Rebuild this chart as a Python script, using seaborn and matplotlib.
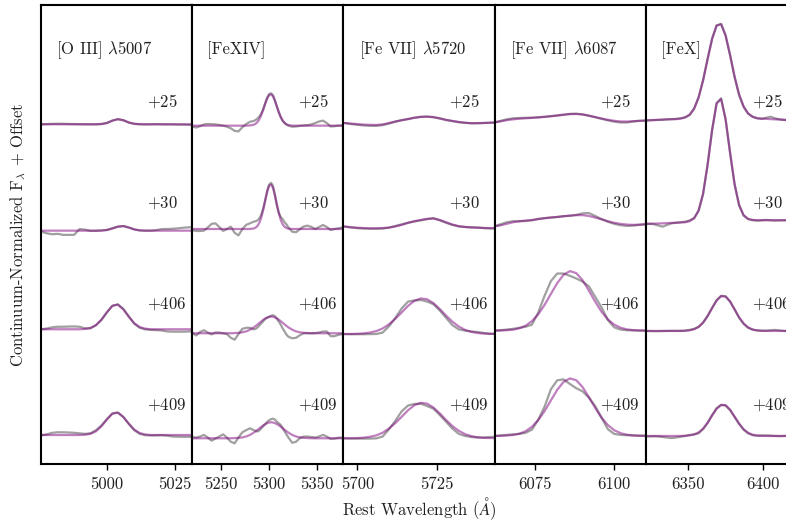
import numpy as np
import matplotlib
matplotlib.use("Agg")
import matplotlib.pyplot as plt
import seaborn as sns

sns.set_theme(style="white")
plt.rcParams.update({
    "font.family": "serif",
    "font.serif": ["cmr10", "DejaVu Serif"],
    "mathtext.fontset": "cm",
    "axes.formatter.use_mathtext": True,
    "axes.unicode_minus": False,
})

# ---------------- data ----------------
epochs = ["+25", "+30", "+406", "+409"]
offsets = [3, 2, 1, 0]
titles = [r"[O III] $\lambda$5007", "[FeXIV]", r"[Fe VII] $\lambda$5720",
          r"[Fe VII] $\lambda$6087", "[FeX]"]
xlims = [(4975.9, 5031.2), (5219.8, 5377.3), (5695.6, 5743.3),
         (6062.2, 6110.0), (6321.8, 6422.6)]
xticks = [[5000, 5025], [5250, 5300, 5350], [5700, 5725], [6075, 6100], [6350, 6400]]

# panel 1 : [O III] 5007
wl_oiii = [4974, 4976, 4978, 4980, 4982, 4984, 4986, 4988, 4990, 4992, 4994, 4996,
           4998, 5000, 5002, 5004, 5006, 5008, 5010, 5012, 5014, 5016, 5018, 5020,
           5022, 5024, 5026, 5028, 5030, 5032, 5034]
oiii_data_25 = [0.972, 0.973, 0.975, 0.977, 0.978, 0.978, 0.976, 0.975, 0.974, 0.973, 0.973, 0.973,
                0.976, 0.986, 1.008, 1.022, 1.012, 0.99, 0.977, 0.973, 0.972, 0.973, 0.974, 0.973,
                0.972, 0.972, 0.971, 0.971, 0.970, 0.968, 0.968]
oiii_fit_25 = [0.973, 0.973, 0.973, 0.973, 0.973, 0.973, 0.973, 0.973, 0.973, 0.973, 0.973, 0.973,
               0.975, 0.985, 1.008, 1.021, 1.012, 0.990, 0.978, 0.974, 0.973, 0.973, 0.973, 0.973,
               0.973, 0.973, 0.972, 0.972, 0.971, 0.970, 0.970]
oiii_data_30 = [0.955, 0.95, 0.935, 0.926, 0.93, 0.92, 0.92, 0.92, 0.975, 0.97, 0.958, 0.958,
                0.962, 0.967, 0.982, 0.998, 1.004, 0.99, 0.972, 0.962, 0.96, 0.96, 0.965, 0.975,
                0.976, 0.978, 0.982, 0.988, 0.992, 0.995, 0.995]
oiii_fit_30 = [0.96, 0.96, 0.96, 0.96, 0.96, 0.96, 0.96, 0.96, 0.96, 0.96, 0.96, 0.96,
               0.961, 0.966, 0.981, 0.998, 1.004, 0.99, 0.972, 0.963, 0.96, 0.96, 0.96, 0.96,
               0.96, 0.96, 0.96, 0.96, 0.96, 0.96, 0.96]
oiii_data_406 = [1.021, 1.021, 1.028, 1.04, 1.045, 1.045, 1.047, 1.048, 1.045, 1.03, 1.03, 1.06,
                 1.11, 1.18, 1.245, 1.258, 1.215, 1.145, 1.075, 1.035, 1.02, 1.015, 1.013, 1.01,
                 1.0, 0.998, 0.998, 0.998, 1.0, 1.0, 1.0]
oiii_fit_406 = [1.021, 1.021, 1.021, 1.021, 1.021, 1.021, 1.021, 1.021, 1.021, 1.024, 1.034, 1.06,
                1.112, 1.184, 1.244, 1.256, 1.211, 1.14, 1.078, 1.042, 1.027, 1.021, 1.021, 1.021,
                1.021, 1.021, 1.021, 1.021, 1.021, 1.021, 1.021]
oiii_data_409 = [1.012, 1.012, 1.02, 1.035, 1.04, 1.04, 1.038, 1.035, 1.03, 1.025, 1.03, 1.06,
                 1.105, 1.165, 1.22, 1.228, 1.185, 1.12, 1.06, 1.025, 1.012, 1.01, 1.01, 1.012,
                 1.008, 1.0, 0.998, 0.997, 0.997, 0.997, 0.997]
oiii_fit_409 = [1.014, 1.014, 1.014, 1.014, 1.014, 1.014, 1.014, 1.014, 1.014, 1.017, 1.026, 1.049,
                1.097, 1.162, 1.217, 1.227, 1.187, 1.122, 1.066, 1.033, 1.019, 1.014, 1.014, 1.014,
                1.014, 1.014, 1.014, 1.014, 1.014, 1.014, 1.014]

# panel 2 : [FeXIV]
wl_fexiv = [5216, 5220, 5224, 5228, 5232, 5236, 5240, 5244, 5248, 5252, 5256, 5260, 5264, 5268,
            5272, 5276, 5280, 5284,
            5286, 5288, 5290, 5292, 5294, 5296, 5298, 5300, 5302, 5304, 5306, 5308, 5310, 5312,
            5314, 5316, 5318,
            5320, 5324, 5328, 5332, 5336, 5340, 5344, 5348, 5352, 5356, 5360, 5364, 5368, 5372,
            5376, 5380]
fexiv_data_25 = [0.958, 0.952, 0.942, 0.955, 0.972, 0.976, 0.974, 0.972, 0.967, 0.96, 0.95, 0.935,
                 0.91, 0.905, 0.945, 0.975, 0.997, 1.005,
                 1.015, 1.03, 1.05, 1.08, 1.125, 1.18, 1.23, 1.262, 1.268, 1.25, 1.2, 1.14, 1.085,
                 1.04, 1.005, 0.985, 0.97,
                 0.96, 0.95, 0.952, 0.958, 0.962, 0.965, 0.972, 0.985, 1.0, 1.008, 0.985, 0.952,
                 0.955, 0.96, 0.962, 0.962]
fexiv_fit_25 = [0.96] * 16 + [0.962, 0.969,
                0.979, 0.997, 1.025, 1.066, 1.117, 1.171, 1.22, 1.251, 1.258, 1.238, 1.197, 1.144,
                1.09, 1.044, 1.01, 0.987, 0.973,
                0.966] + [0.96] * 15
fexiv_data_30 = [0.976, 0.965, 0.957, 0.957, 0.96, 0.99, 1.025, 1.03, 0.995, 0.958, 0.975, 0.998,
                 0.94, 0.915, 0.975, 1.015, 1.03, 1.046,
                 1.05, 1.06, 1.08, 1.12, 1.18, 1.26, 1.345, 1.40, 1.415, 1.385, 1.3, 1.2, 1.13,
                 1.09, 1.07, 1.04, 1.02,
                 0.99, 0.95, 0.945, 0.975, 1.0, 1.008, 0.995, 0.976, 0.995, 1.014, 0.995, 0.966,
                 0.975, 0.982, 0.99, 0.99]
fexiv_fit_30 = [0.976] * 17 + [0.981,
                0.99, 1.007, 1.04, 1.093, 1.166, 1.252, 1.333, 1.388, 1.40, 1.365, 1.295, 1.208,
                1.127, 1.063, 1.021, 0.997, 0.985,
                0.979] + [0.976] * 15
fexiv_data_406 = [0.995, 0.985, 0.962, 0.995, 1.012, 0.99, 0.972, 0.99, 0.99, 0.983, 0.975, 0.94,
                  0.922, 0.975, 1.025, 1.035, 1.035, 1.02,
                  1.025, 1.04, 1.06, 1.08, 1.1, 1.12, 1.13, 1.14, 1.15, 1.155, 1.145, 1.12, 1.095,
                  1.065, 1.03, 1.0, 0.97,
                  0.95, 0.935, 0.94, 0.965, 0.983, 0.983, 0.983, 0.985, 0.99, 1.0, 1.0, 0.955,
                  0.955, 0.968, 0.975, 0.975]
fexiv_fit_406 = [0.983] * 12 + [0.985, 0.987, 0.992, 1.001, 1.017, 1.039,
                 1.053, 1.068, 1.083, 1.098, 1.113, 1.125, 1.134, 1.14, 1.142, 1.14, 1.134, 1.125,
                 1.113, 1.098, 1.083, 1.068, 1.053,
                 1.039, 1.017, 1.001, 0.992, 0.987, 0.985] + [0.983] * 10
fexiv_data_409 = [0.998, 0.995, 0.99, 1.0, 1.015, 0.99, 0.96, 0.98, 1.0, 1.02, 0.99, 0.95,
                  0.935, 0.99, 1.04, 1.06, 1.078, 1.06,
                  1.052, 1.048, 1.06, 1.08, 1.1, 1.12, 1.14, 1.155, 1.165, 1.17, 1.16, 1.14, 1.125,
                  1.11, 1.08, 1.05, 1.02,
                  0.99, 0.94, 0.95, 0.985, 0.999, 1.0, 0.995, 0.99, 1.0, 1.015, 1.0, 0.977,
                  0.98, 0.988, 0.99, 0.99]
fexiv_fit_409 = [0.983] * 12 + [0.985, 0.987, 0.991, 1.0, 1.015, 1.037,
                 1.05, 1.064, 1.079, 1.093, 1.107, 1.118, 1.127, 1.133, 1.135, 1.133, 1.127, 1.118,
                 1.107, 1.093, 1.079, 1.064, 1.05,
                 1.037, 1.015, 1.0, 0.991, 0.987, 0.985] + [0.983] * 10

# panel 3 : [Fe VII] 5720
wl_fevii_a = [5692, 5694, 5696, 5698, 5700, 5702, 5704, 5706, 5708, 5710, 5712, 5714, 5716, 5718,
              5720, 5722, 5724, 5726, 5728, 5730, 5732, 5734, 5736, 5738, 5740, 5742, 5744, 5746]
feviia_data_25 = [0.99, 0.99, 0.985, 0.975, 0.968, 0.962, 0.958, 0.958, 0.965, 0.98, 0.998, 1.012,
                  1.024, 1.036, 1.044, 1.046, 1.04, 1.028, 1.014, 1.003, 0.993, 0.986, 0.983, 0.984,
                  0.986, 0.988, 0.99, 0.99]
feviia_fit_25 = [0.99, 0.989, 0.985, 0.98, 0.975, 0.97, 0.968, 0.967, 0.972, 0.985, 1.0, 1.012,
                 1.022, 1.035, 1.043, 1.046, 1.042, 1.03, 1.015, 1.005, 0.995, 0.988, 0.983, 0.983,
                 0.985, 0.988, 0.989, 0.99]
feviia_data_30 = [1.01, 1.008, 0.998, 0.99, 0.984, 0.98, 0.978, 0.978, 0.98, 0.988, 1.005, 1.02,
                  1.035, 1.048, 1.058, 1.07, 1.08, 1.058, 1.035, 1.015, 1.0, 0.995, 0.992, 0.99,
                  0.984, 0.98, 0.982, 0.984]
feviia_fit_30 = [1.01, 1.008, 1.0, 0.993, 0.988, 0.985, 0.983, 0.983, 0.985, 0.99, 1.0, 1.015,
                 1.035, 1.05, 1.062, 1.072, 1.075, 1.062, 1.04, 1.018, 1.003, 0.995, 0.99, 0.988,
                 0.986, 0.985, 0.984, 0.984]
feviia_data_406 = [0.976, 0.976, 0.975, 0.974, 0.974, 0.974, 0.975, 0.976, 0.99, 1.05, 1.13, 1.22,
                   1.285, 1.295, 1.3, 1.285, 1.26, 1.2, 1.13, 1.06, 1.02, 1.008, 1.0, 0.995,
                   0.985, 0.978, 0.976, 0.976]
feviia_fit_406 = [0.976, 0.976, 0.976, 0.976, 0.978, 0.982, 0.99, 1.004, 1.029, 1.069, 1.121, 1.182,
                  1.244, 1.292, 1.315, 1.307, 1.27, 1.214, 1.151, 1.093, 1.047, 1.015, 0.996, 0.985,
                  0.98, 0.978, 0.976, 0.976]
feviia_data_409 = [0.983, 0.983, 0.982, 0.981, 0.98, 0.98, 0.98, 0.982, 1.0, 1.07, 1.15, 1.24,
                   1.295, 1.31, 1.312, 1.29, 1.265, 1.205, 1.14, 1.075, 1.025, 1.005, 0.995, 0.99,
                   0.99, 0.995, 0.998, 0.998]
feviia_fit_409 = [0.983, 0.983, 0.983, 0.983, 0.985, 0.989, 0.997, 1.011, 1.036, 1.076, 1.128, 1.188,
                  1.25, 1.298, 1.321, 1.313, 1.276, 1.22, 1.157, 1.099, 1.054, 1.022, 1.003, 0.992,
                  0.987, 0.985, 0.983, 0.983]

# panel 4 : [Fe VII] 6087
wl_fevii_b = [6060, 6062, 6064, 6066, 6068, 6070, 6072, 6074, 6076, 6078, 6080, 6082, 6084, 6086,
              6088, 6090, 6092, 6094, 6096, 6098, 6100, 6102, 6104, 6106, 6108, 6110, 6112]
feviib_data_25 = [0.982, 0.99, 1.005, 1.02, 1.03, 1.033, 1.035, 1.036, 1.04, 1.045, 1.05, 1.055,
                  1.063, 1.072, 1.074, 1.068, 1.055, 1.04, 1.025, 1.01, 0.998, 0.99, 0.99, 1.0,
                  1.006, 1.008, 1.008]
feviib_fit_25 = [0.982, 0.99, 1.0, 1.012, 1.02, 1.026, 1.03, 1.034, 1.038, 1.043, 1.05, 1.058,
                 1.065, 1.07, 1.071, 1.066, 1.055, 1.042, 1.028, 1.016, 1.006, 1.0, 0.999, 1.002,
                 1.006, 1.008, 1.008]
feviib_data_30 = [0.995, 1.0, 1.02, 1.04, 1.05, 1.05, 1.052, 1.058, 1.072, 1.08, 1.085, 1.09,
                  1.098, 1.102, 1.11, 1.125, 1.128, 1.1, 1.07, 1.045, 1.025, 1.012, 1.005, 1.008,
                  1.015, 1.02, 1.024]
feviib_fit_30 = [0.995, 1.0, 1.01, 1.025, 1.04, 1.05, 1.056, 1.062, 1.07, 1.078, 1.085, 1.091,
                 1.097, 1.103, 1.108, 1.108, 1.1, 1.085, 1.068, 1.05, 1.035, 1.025, 1.018, 1.015,
                 1.018, 1.022, 1.024]
feviib_data_406 = [1.005, 1.008, 1.012, 1.018, 1.025, 1.035, 1.045, 1.065, 1.18, 1.34, 1.48, 1.552,
                   1.552, 1.53, 1.505, 1.475, 1.43, 1.33, 1.23, 1.11, 1.04, 1.018, 1.012, 1.01,
                   1.008, 1.008, 1.008]
feviib_fit_406 = [1.008, 1.008, 1.009, 1.012, 1.017, 1.03, 1.055, 1.098, 1.164, 1.253, 1.358, 1.461,
                  1.54, 1.575, 1.556, 1.489, 1.39, 1.284, 1.188, 1.115, 1.065, 1.036, 1.02, 1.013,
                  1.01, 1.009, 1.008]
feviib_data_409 = [1.003, 1.005, 1.01, 1.015, 1.02, 1.025, 1.035, 1.065, 1.16, 1.284, 1.45, 1.535,
                   1.544, 1.5, 1.46, 1.43, 1.37, 1.29, 1.18, 1.07, 1.025, 1.015, 1.012, 1.01,
                   1.008, 1.007, 1.006]
feviib_fit_409 = [1.005, 1.005, 1.006, 1.009, 1.014, 1.026, 1.05, 1.092, 1.156, 1.242, 1.344, 1.444,
                  1.52, 1.553, 1.536, 1.471, 1.375, 1.272, 1.179, 1.109, 1.06, 1.032, 1.017, 1.01,
                  1.007, 1.006, 1.005]

# panel 5 : [FeX]
wl_fex = [6318, 6321, 6324, 6327, 6330, 6333, 6336, 6339, 6342, 6345, 6348, 6351, 6354, 6357,
          6360, 6363, 6366, 6369, 6372, 6375, 6378, 6381, 6384, 6387, 6390, 6393, 6396, 6399,
          6402, 6405, 6408, 6411, 6414, 6417, 6420, 6423, 6426]
fex_data_25 = [1.005, 1.006, 1.01, 1.012, 1.014, 1.016, 1.02, 1.022, 1.025, 1.03, 1.04, 1.06,
               1.12, 1.23, 1.395, 1.6, 1.79, 1.915, 1.93, 1.82, 1.63, 1.42, 1.25, 1.14,
               1.075, 1.045, 1.03, 1.025, 1.035, 1.045, 1.03, 1.02, 1.015, 1.01, 1.01, 1.008, 1.008]
fex_fit_25 = [1.008, 1.01, 1.012, 1.014, 1.016, 1.018, 1.02, 1.021, 1.022, 1.027, 1.038, 1.065,
              1.123, 1.228, 1.39, 1.59, 1.785, 1.912, 1.925, 1.818, 1.632, 1.428, 1.258, 1.142,
              1.076, 1.044, 1.031, 1.027, 1.025, 1.022, 1.02, 1.018, 1.015, 1.012, 1.01, 1.008, 1.008]
fex_data_30 = [1.022, 1.024, 1.025, 1.022, 1.01, 0.998, 1.015, 1.03, 1.035, 1.04, 1.045, 1.058,
               1.08, 1.15, 1.31, 1.59, 1.92, 2.175, 2.22, 2.02, 1.7, 1.4, 1.2, 1.105,
               1.07, 1.06, 1.055, 1.058, 1.062, 1.058, 1.056, 1.058, 1.06, 1.058, 1.056, 1.056, 1.056]
fex_fit_30 = [1.024, 1.025, 1.026, 1.027, 1.028, 1.03, 1.032, 1.034, 1.036, 1.038, 1.04, 1.05,
              1.077, 1.151, 1.313, 1.586, 1.916, 2.171, 2.214, 2.02, 1.701, 1.403, 1.205, 1.107,
              1.072, 1.062, 1.06, 1.06, 1.06, 1.06, 1.06, 1.06, 1.058, 1.058, 1.057, 1.057, 1.057]
fex_data_406 = [1.005, 1.005, 1.004, 1.003, 1.003, 1.004, 1.005, 1.006, 1.006, 1.006, 1.008, 1.015,
                1.025, 1.045, 1.085, 1.15, 1.225, 1.298, 1.34, 1.335, 1.285, 1.21, 1.13, 1.072,
                1.035, 1.017, 1.01, 1.008, 1.008, 1.012, 1.015, 1.01, 1.005, 1.005, 1.005, 1.005, 1.005]
fex_fit_406 = [1.005, 1.005, 1.005, 1.005, 1.005, 1.005, 1.005, 1.005, 1.005, 1.005, 1.007, 1.011,
               1.021, 1.043, 1.084, 1.145, 1.222, 1.294, 1.336, 1.333, 1.285, 1.211, 1.136, 1.077,
               1.039, 1.019, 1.01, 1.006, 1.005, 1.005, 1.005, 1.005, 1.005, 1.005, 1.005, 1.005, 1.005]
fex_data_409 = [1.003, 1.0, 1.0, 1.002, 1.0, 0.995, 0.99, 0.985, 0.99, 0.998, 1.005, 1.015,
                1.02, 1.03, 1.07, 1.13, 1.205, 1.27, 1.3, 1.295, 1.25, 1.185, 1.12, 1.065,
                1.03, 1.012, 1.008, 1.01, 1.01, 1.008, 1.005, 1.003, 1.005, 1.008, 1.005, 1.003, 1.003]
fex_fit_409 = [1.005, 1.005, 1.005, 1.005, 1.005, 1.005, 1.005, 1.005, 1.005, 1.005, 1.007, 1.01,
               1.019, 1.039, 1.075, 1.13, 1.199, 1.263, 1.301, 1.298, 1.255, 1.189, 1.122, 1.069,
               1.035, 1.017, 1.009, 1.006, 1.005, 1.005, 1.005, 1.005, 1.005, 1.005, 1.005, 1.005, 1.005]

panels = [
    (wl_oiii, [oiii_data_25, oiii_data_30, oiii_data_406, oiii_data_409],
     [oiii_fit_25, oiii_fit_30, oiii_fit_406, oiii_fit_409]),
    (wl_fexiv, [fexiv_data_25, fexiv_data_30, fexiv_data_406, fexiv_data_409],
     [fexiv_fit_25, fexiv_fit_30, fexiv_fit_406, fexiv_fit_409]),
    (wl_fevii_a, [feviia_data_25, feviia_data_30, feviia_data_406, feviia_data_409],
     [feviia_fit_25, feviia_fit_30, feviia_fit_406, feviia_fit_409]),
    (wl_fevii_b, [feviib_data_25, feviib_data_30, feviib_data_406, feviib_data_409],
     [feviib_fit_25, feviib_fit_30, feviib_fit_406, feviib_fit_409]),
    (wl_fex, [fex_data_25, fex_data_30, fex_data_406, fex_data_409],
     [fex_fit_25, fex_fit_30, fex_fit_406, fex_fit_409]),
]

# ---------------- figure ----------------
W, H = 786, 521
fig = plt.figure(figsize=(W / 100, H / 100), dpi=100)
fig.patch.set_facecolor("white")

left_px, pw, top_px, bot_px = 41, 151.2, 5, 464
label_y = [0.79, 0.57, 0.35, 0.13]
fs = 12

for i, (wl, datas, fits) in enumerate(panels):
    ax = fig.add_axes([(left_px + i * pw) / W, (H - bot_px) / H, pw / W, (bot_px - top_px) / H])
    ax.set_facecolor("white")
    for k in range(4):
        off = offsets[k]
        sns.lineplot(x=wl, y=np.array(datas[k]) + off, ax=ax, color="gray", alpha=0.75,
                     lw=1.6, estimator=None, sort=False)
        sns.lineplot(x=wl, y=np.array(fits[k]) + off, ax=ax, color="purple", alpha=0.5,
                     lw=1.6, estimator=None, sort=False)
        ax.text(0.70, label_y[k], r"$" + epochs[k] + r"$", transform=ax.transAxes,
                ha="left", va="center", fontsize=fs, color="#222222")
    ax.text(0.10, 0.902, titles[i], transform=ax.transAxes, ha="left", va="center",
            fontsize=fs, color="#222222")
    ax.set_xlim(*xlims[i])
    ax.set_ylim(0.738, 5.109)
    ax.set_xticks(xticks[i])
    ax.set_xticklabels([str(t) for t in xticks[i]])
    ax.set_yticks([])
    ax.set_xlabel("")
    ax.set_ylabel("")
    for s in ax.spines.values():
        s.set_visible(True)
        s.set_color("black")
        s.set_linewidth(1.5)
    ax.tick_params(axis="x", which="both", direction="out", length=4, width=1.0,
                   bottom=True, top=False, labelsize=fs, pad=5, colors="black",
                   labelcolor="#222222")

fig.text(419 / W, 1 - 509 / H, r"Rest Wavelength ($\AA$)", ha="center", va="center",
         fontsize=fs, color="#222222")
fig.text(18 / W, 1 - 234.5 / H, r"Continuum-Normalized F$_\lambda$ $+$ Offset",
         ha="center", va="center", rotation=90, fontsize=fs, color="#222222")

fig.savefig("out.png", dpi=100, facecolor="white")
